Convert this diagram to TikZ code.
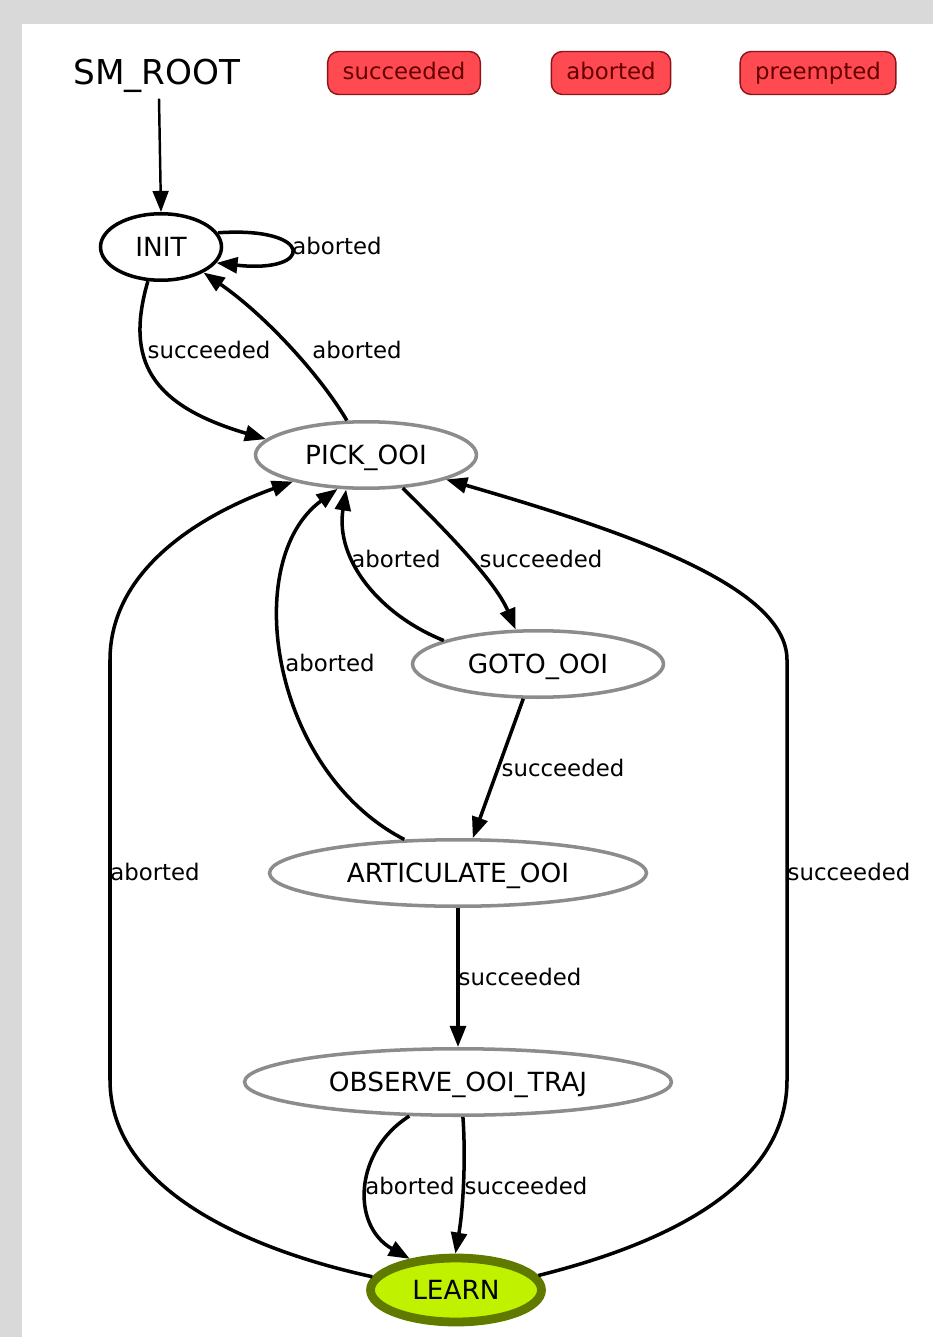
\documentclass[tikz,border=0pt]{standalone}
\usepackage{fontspec}
\setmainfont{DejaVu Sans}
\usetikzlibrary{arrows.meta,shapes.geometric}

\definecolor{framegray}{RGB}{217,217,217}
\definecolor{outfill}{RGB}{255,74,82}
\definecolor{outline}{RGB}{140,20,24}
\definecolor{outtext}{RGB}{100,0,0}
\definecolor{stategray}{RGB}{140,140,140}
\definecolor{learnfill}{RGB}{192,242,0}
\definecolor{learnline}{RGB}{96,122,0}

\tikzset{
  statenode/.style={ellipse,draw=stategray,line width=2pt,inner sep=0pt,
    minimum height=1.33cm,text height=11pt,text depth=0pt,
    font=\fontsize{15}{18}\selectfont},
  outbox/.style={rounded corners=0.22cm,draw=outline,fill=outfill,line width=0.8pt,
    text=outtext,minimum height=0.86cm,inner xsep=0.3cm,
    text height=9.5pt,text depth=2.5pt,font=\fontsize{13}{15}\selectfont},
  elabel/.style={inner sep=0pt,font=\fontsize{13}{15}\selectfont},
  trans/.style={->,line width=2pt}
}

\begin{document}
\begin{tikzpicture}[x=0.02cm,y=-0.02cm,>={Triangle[length=12pt,width=9pt]}]
\useasboundingbox (0,0) rectangle (933,1337);
\fill[framegray] (0,0) rectangle (933,1337);
\fill[white] (22,24) rectangle (933,1337);
%% header
\node[inner sep=0pt,text height=14pt,text depth=0pt,font=\fontsize{19.5}{22}\selectfont] (smroot) at (157,72) {SM\_ROOT};
\node[outbox] (outsucc) at (404,73) {succeeded};
\node[outbox] (outabort) at (611,73) {aborted};
\node[outbox] (outpreempt) at (818,73) {preempted};
%% states
\node[statenode,draw=black,minimum width=2.42cm] (init) at (161,247) {INIT};
\node[statenode,minimum width=4.42cm] (pick) at (366,455) {PICK\_OOI};
\node[statenode,minimum width=5.02cm] (gotoooi) at (538,664) {GOTO\_OOI};
\node[statenode,minimum width=7.54cm] (artic) at (458,873) {ARTICULATE\_OOI};
\node[statenode,minimum width=8.54cm] (observe) at (458,1082) {OBSERVE\_OOI\_TRAJ};
\node[statenode,draw=learnline,fill=learnfill,line width=5pt,minimum width=3.42cm,minimum height=1.28cm] (learn) at (456,1290) {LEARN};
%% INIT
\draw[->,line width=1.4pt] (smroot.south) ++(2,14) -- (init.north);
\draw[trans] (init.14) .. controls (315,226) and (315,274) .. (init.-16);
\draw[trans] (init.249) .. controls (125,360) and (150,405) .. (pick.171);
\draw[trans] (pick.119) .. controls (320,375) and (265,315) .. (init.-31);
%% PICK_OOI, GOTO_OOI
\draw[trans] (pick.318) .. controls (440,525) and (495,580) .. (gotoooi.123);
\draw[trans] (gotoooi.166) .. controls (380,615) and (335,560) .. (pick.240);
\draw[trans] (gotoooi.247) -- (artic.67);
\draw[trans] (artic.148) .. controls (270,770) and (240,560) .. (pick.230);
%% ARTICULATE_OOI, OBSERVE_OOI_TRAJ
\draw[trans] (artic.south) -- (observe.north);
\draw[trans] (observe.215) .. controls (355,1150) and (350,1225) .. (learn.146);
\draw[trans] (observe.278) .. controls (466,1160) and (463,1210) .. (learn.91);
%% LEARN back to PICK_OOI
\draw[trans] (learn.171) .. controls (250,1250) and (110,1190) .. (110,1080)
  -- (110,660) .. controls (110,570) and (200,515) .. (pick.200);
\draw[trans] (learn.10) .. controls (680,1240) and (787,1180) .. (787,1080)
  -- (787,660) .. controls (787,585) and (620,530) .. (pick.343);
%% labels
\node[elabel,anchor=west] (lbloop) at (292,246) {aborted};
\node[elabel] (lbinitsucc) at (209,350) {succeeded};
\node[elabel] (lbpickabort) at (357,350) {aborted};
\node[elabel] (lbgotoabort) at (396,559) {aborted};
\node[elabel] (lbpicksucc) at (541,559) {succeeded};
\node[elabel] (lbarticabort) at (330,663) {aborted};
\node[elabel] (lbgotosucc) at (563,768) {succeeded};
\node[elabel] (lblearnabort) at (155,872) {aborted};
\node[elabel] (lblearnsucc) at (849,872) {succeeded};
\node[elabel] (lbarticsucc) at (520,977) {succeeded};
\node[elabel] (lbobsabort) at (410,1186) {aborted};
\node[elabel] (lbobssucc) at (526,1186) {succeeded};
\end{tikzpicture}
\end{document}
